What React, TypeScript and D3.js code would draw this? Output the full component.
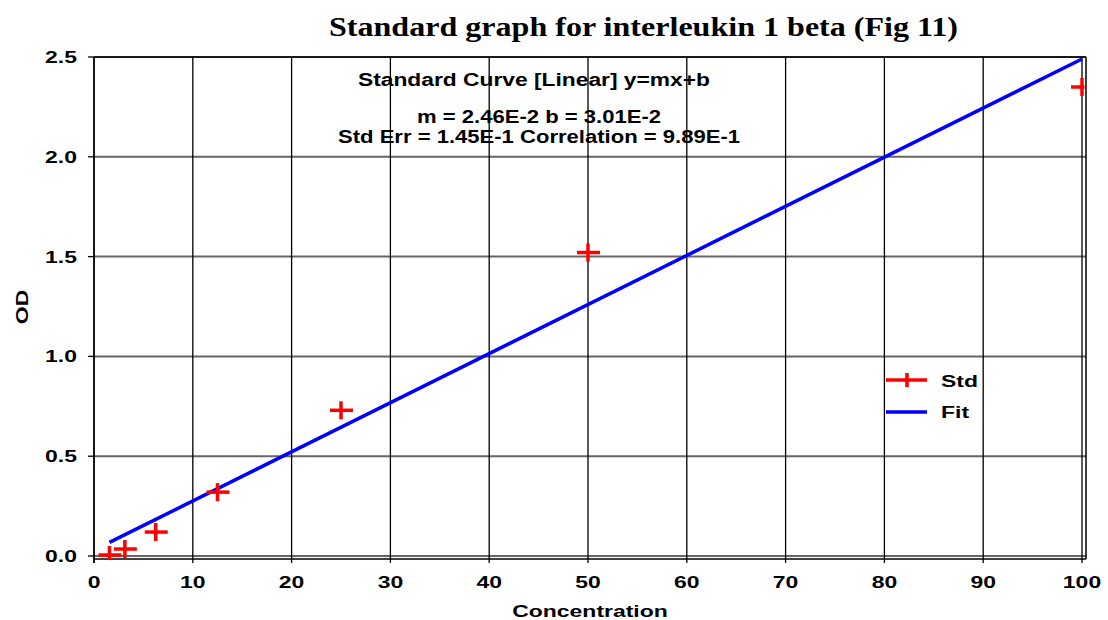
import React from "react";
import * as d3 from "d3";

const concentrations = [1.5625, 3.125, 6.25, 12.5, 25, 50, 100];
const odValues = [0.005, 0.035, 0.12, 0.32, 0.73, 1.52, 2.35];
const fitX = [1.5625, 100];
const fitY = [0.068, 2.49];
const xTicks = [0, 10, 20, 30, 40, 50, 60, 70, 80, 90, 100];
const yTicks = [0, 0.5, 1.0, 1.5, 2.0, 2.5];
const annotation = [
  "Standard Curve [Linear] y=mx+b",
  "m = 2.46E-2 b = 3.01E-2",
  "Std Err = 1.45E-1 Correlation = 9.89E-1",
];

const W = 1108;
const H = 620;
const SANS = "'Liberation Sans', Arial, sans-serif";
const SX = 1.35; // labels in the original are drawn wide

const x = d3.scaleLinear().domain([0, 100]).range([94, 1082]);
const y = d3.scaleLinear().domain([0, 2.5]).range([556, 57]);

function Label(props: { x: number; y: number; text: string; anchor?: string; rotate?: number; size?: number }) {
  const { anchor = "middle", rotate = 0, size = 17 } = props;
  return (
    <text
      transform={`translate(${props.x},${props.y}) rotate(${rotate}) scale(${SX},1)`}
      textAnchor={anchor}
      fontFamily={SANS}
      fontWeight="bold"
      fontSize={size}
      fill="#000"
    >
      {props.text}
    </text>
  );
}

export default function App() {
  const fitLine = d3.line<number>().x((d) => x(d)).y((d, i) => y(fitY[i]));
  const [x0] = x.range();
  const [, yt] = y.range();

  return (
    <svg width={W} height={H} style={{ position: "absolute", left: 0, top: 0, background: "#fff" }}>
      <defs>
        <clipPath id="plot">
          <rect x={x0} y={yt} width={1084.5 - x0} height={559 - yt} />
        </clipPath>
      </defs>

      <text
        x={329}
        y={36}
        textLength={629}
        lengthAdjust="spacingAndGlyphs"
        fontFamily="'Liberation Serif', 'Times New Roman', serif"
        fontWeight="bold"
        fontSize={28}
      >
        Standard graph for interleukin 1 beta (Fig 11)
      </text>

      {/* horizontal grid */}
      {yTicks.map((t) => (
        <line key={"h" + t} x1={x0} x2={1086} y1={y(t)} y2={y(t)} stroke="#666" strokeWidth={2} />
      ))}
      {/* vertical grid */}
      {xTicks.map((t) => (
        <line key={"v" + t} x1={x(t)} x2={x(t)} y1={yt} y2={563} stroke="#000" strokeWidth={1.3} />
      ))}
      {/* frame */}
      <line x1={x0} x2={1086} y1={yt} y2={yt} stroke="#000" strokeWidth={1.5} />
      <line x1={x0} x2={1086} y1={559} y2={559} stroke="#000" strokeWidth={1.5} />
      <line x1={x0} x2={x0} y1={yt} y2={563} stroke="#000" strokeWidth={1.5} />
      <line x1={1086} x2={1086} y1={yt} y2={559} stroke="#000" strokeWidth={1.5} />
      {yTicks.map((t) => (
        <line key={"yt" + t} x1={88} x2={x0} y1={y(t)} y2={y(t)} stroke="#000" strokeWidth={1.3} />
      ))}

      {/* tick labels */}
      {yTicks.map((t) => (
        <Label key={"yl" + t} x={77} y={y(t) + 6} text={t.toFixed(1)} anchor="end" />
      ))}
      {xTicks.map((t) => (
        <Label key={"xl" + t} x={x(t)} y={588} text={String(t)} />
      ))}
      <Label x={590} y={617} text="Concentration" />
      <Label x={28} y={307} text="OD" rotate={-90} />

      {/* annotation */}
      {annotation.map((s, i) => {
        const pos = [
          [358, 86, 352],
          [417, 123, 244],
          [338, 143, 402],
        ][i];
        return (
          <text
            key={s}
            x={pos[0]}
            y={pos[1]}
            textLength={pos[2]}
            lengthAdjust="spacingAndGlyphs"
            fontFamily={SANS}
            fontWeight="bold"
            fontSize={17.5}
          >
            {s}
          </text>
        );
      })}

      <g clipPath="url(#plot)">
        <path d={fitLine(fitX) || ""} fill="none" stroke="#0000ff" strokeWidth={3.5} />
        {concentrations.map((c, i) => (
          <g key={"p" + c} transform={`translate(${x(c)},${y(odValues[i])})`} stroke="#ff0000" strokeWidth={3.5}>
            <line x1={-11} x2={12} y1={0} y2={0} />
            <line x1={0} x2={0} y1={-9} y2={9} />
          </g>
        ))}
      </g>

      {/* legend */}
      <g stroke="#ff0000" strokeWidth={3.5}>
        <line x1={886} x2={927} y1={380} y2={380} />
        <line x1={907} x2={907} y1={373} y2={387} />
      </g>
      <Label x={941} y={387} text="Std" anchor="start" />
      <line x1={886} x2={927} y1={412} y2={412} stroke="#0000ff" strokeWidth={3.5} />
      <Label x={941} y={418} text="Fit" anchor="start" />
    </svg>
  );
}
